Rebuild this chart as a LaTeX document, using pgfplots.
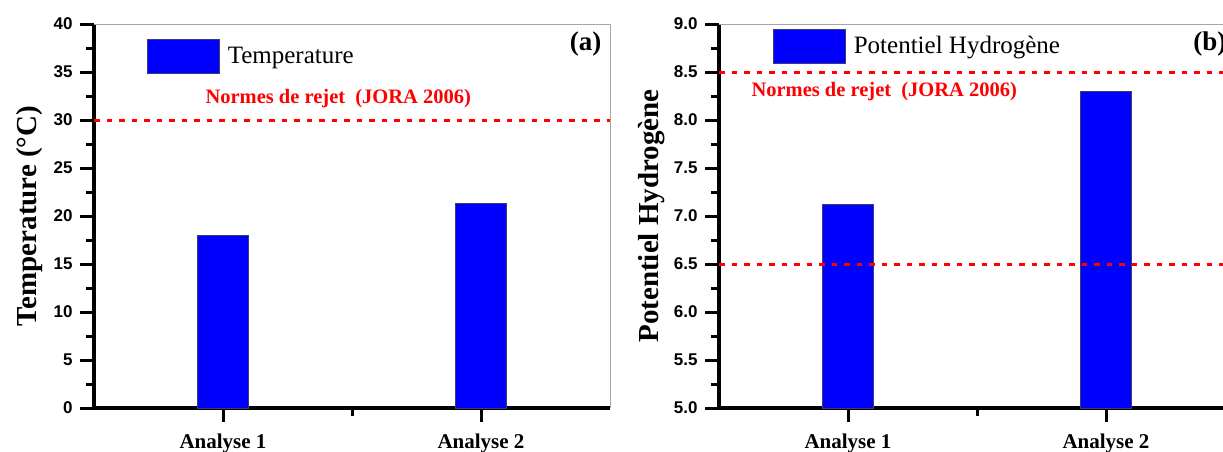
\documentclass[border=0pt]{standalone}
\usepackage{pgfplots}
\pgfplotsset{compat=1.18}
\usepackage{fontspec}
\setmainfont{Liberation Serif}
\newfontfamily\tickfont{Liberation Sans}
\definecolor{barblue}{RGB}{0,0,255}
\definecolor{baredge}{RGB}{60,60,110}
\definecolor{normred}{RGB}{255,0,0}
\begin{document}
\begin{tikzpicture}
\pgfplotsset{
  panel/.style={
    scale only axis, width=516pt, height=384pt,
    anchor=south west,
    axis lines*=left,
    axis line style={line width=3.5pt, black},
    xmin=0.5, xmax=2.5,
    xtick={1,2}, xticklabels={Analyse 1, Analyse 2},
    minor xtick={1.5},
    tick align=outside,
    major tick length=14pt, minor tick length=8pt,
    tick style={line width=3pt, black},
    xtick style={line width=3pt, black},
    ytick style={line width=3pt, black},
    minor tick style={line width=2.5pt, black},
    minor y tick num=1,
    xticklabel style={font=\fontsize{21}{24}\selectfont\rmfamily\bfseries, yshift=-8pt},
    yticklabel={\fontsize{17}{20}\selectfont\tickfont\bfseries\pgfmathprintnumber{\tick}},
    yticklabel style={xshift=-4pt},
    /pgf/number format/assume math mode=true,
    ylabel style={font=\fontsize{29}{34}\selectfont\rmfamily\bfseries, anchor=center},
    legend style={draw=none, fill=none, inner sep=0pt, outer sep=0pt,
      font=\fontsize{25}{28}\selectfont\rmfamily, anchor=west,
      nodes={inner sep=0pt, anchor=west},
      /tikz/every odd column/.append style={column sep=8pt}},
    legend image code/.code={\draw[#1] (0pt,-17pt) rectangle (72pt,17pt);},
  },
  normline/.style={normred, line width=3pt, dash pattern=on 5.5pt off 7pt},
  bars/.style={ybar, bar width=51pt, fill=barblue, draw=baredge, line width=0.8pt},
}
% ---------- panel (a)
\begin{axis}[panel, name=A, at={(94pt,-408pt)},
  ymin=0, ymax=40, ytick={0,5,...,40},
  ylabel={Temperature (°C)},
  ylabel style={at={(axis description cs:-0.124,0.5)}},
  legend style={at={(axis description cs:0.1027,0.9167)}},
]
\addplot[bars] coordinates {(1,18.0) (2,21.3)};
\addlegendentry{Temperature}
\addplot[normline, forget plot] coordinates {(0.5,30) (2.5,30)};
\node[anchor=base west, text=normred, font=\fontsize{20.5}{24}\selectfont\bfseries]
  at (axis description cs:0.2093,0.7917) {Normes de rejet\ \ (JORA 2006)};
\node[anchor=base east, font=\fontsize{27}{30}\selectfont\bfseries]
  at (axis description cs:0.9903,0.9297) {(a)};
\end{axis}
\draw[gray!70, line width=1pt] (A.north west) -- (A.north east) -- (A.south east);
% ---------- panel (b)
\begin{axis}[panel, name=B, at={(719pt,-408pt)},
  ymin=5, ymax=9, ytick={5,5.5,...,9},
  yticklabel={\fontsize{17}{20}\selectfont\tickfont\bfseries\pgfmathprintnumber[fixed, fixed zerofill, precision=1]{\tick}},
  ylabel={Potentiel Hydrogène},
  ylabel style={at={(axis description cs:-0.130,0.5)}},
  legend style={at={(axis description cs:0.1047,0.9427)}},
]
\addplot[bars] coordinates {(1,7.12) (2,8.3)};
\addlegendentry{Potentiel Hydrogène}
\addplot[normline, forget plot] coordinates {(0.5,8.5) (2.5,8.5)};
\addplot[normline, forget plot] coordinates {(0.5,6.5) (2.5,6.5)};
\node[anchor=base west, text=normred, font=\fontsize{20.5}{24}\selectfont\bfseries]
  at (axis description cs:0.0562,0.8099) {Normes de rejet\ \ (JORA 2006)};
\node[anchor=base east, font=\fontsize{27}{30}\selectfont\bfseries]
  at (axis description cs:0.9903,0.9297) {(b)};
\end{axis}
\draw[gray!70, line width=1pt] (B.north west) -- (B.north east) -- (B.south east);
\pgfresetboundingbox
\path[use as bounding box] (0pt,0pt) rectangle (1223pt,-452pt);
\end{tikzpicture}
\end{document}
